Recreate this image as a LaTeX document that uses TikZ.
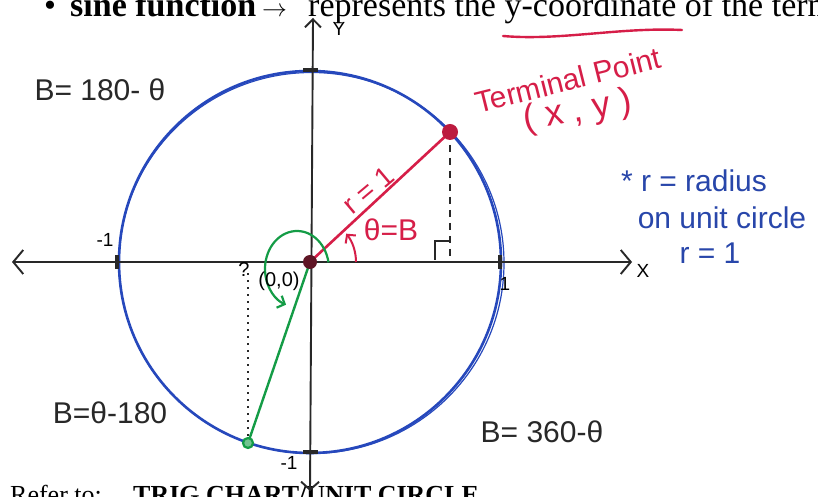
\documentclass[tikz,border=0pt]{standalone}
\usepackage{fontspec}
\setmainfont{Liberation Serif}
\newfontfamily\handfont{Liberation Sans}
\usetikzlibrary{arrows.meta}
\definecolor{penblue}{RGB}{38,72,188}
\definecolor{notesblue}{RGB}{40,70,170}
\definecolor{penred}{RGB}{214,30,72}
\definecolor{pengreen}{RGB}{20,156,70}
\definecolor{penblack}{RGB}{40,40,40}
\definecolor{dotdark}{RGB}{95,22,38}
\begin{document}
\begin{tikzpicture}[x=1pt,y=1pt,
  hand/.style={font=\handfont\fontsize{30}{32}\selectfont, inner sep=0pt},
  smallhand/.style={font=\handfont\fontsize{19}{21}\selectfont, inner sep=0pt},
  print/.style={font=\fontsize{34}{38}\selectfont, inner sep=0pt, anchor=base west},
  axisline/.style={penblack, line width=1.9pt},
  tickmark/.style={penblack, line width=4pt},
  circ/.style={penblue, line width=2.6pt}
]
\useasboundingbox (0,0) rectangle (818,497);
\fill[white] (0,0) rectangle (818,497);

% printed lines (cut by the page edge)
\node[print] (bul) at (44,480) {\textbullet};
\node[print] (sf) at (70,480) {\textbf{sine function}};
\node[print] (arr) at (262,480) {$\rightarrow$};
\node[print] (rep) at (308,480) {represents the y-coordinate of the term};
\draw[penred, line width=2.4pt, line cap=round] (503,461) .. controls (560,456) and (620,470) .. (682,467);
\node[print, font=\fontsize{26}{30}\selectfont] (ref) at (10,-7) {Refer to:};
\node[print, font=\fontsize{26}{30}\selectfont] (trig) at (133,-7) {\textbf{TRIG CHART/UNIT CIRCLE}};

% geometry
\coordinate (O) at (310,235);
\coordinate (XL) at (12,235);
\coordinate (XR) at (632,235);
\coordinate (YB) at (310,6);
\coordinate (YT) at (313,479);
\coordinate (P) at (450,365);
\coordinate (PF) at (450,237);
\coordinate (G) at (248,54);
\coordinate (GF) at (248,226);

% unit circle
\draw[circ] (O) circle[radius=191pt];
\draw[penblue, line width=1.2pt] (311.5,234) circle[x radius=192.5pt, y radius=190.5pt];

% axes
\draw[axisline, {Straight Barb[length=10pt,width=24pt]}-{Straight Barb[length=10pt,width=24pt]}] (XL) -- (XR);
\draw[axisline, {Straight Barb[length=8pt,width=18pt]}-{Straight Barb[length=8pt,width=16pt]}] (YB) -- (YT);

% ticks
\draw[tickmark] (117,228) -- (117,242);
\draw[tickmark] (500,228) -- (500,242);
\draw[tickmark] (303,427) -- (318,427);
\draw[tickmark] (303,45) -- (318,45);

% axis labels
\node[smallhand] (xlab) at (643,226) {X};
\node[smallhand] (ylab) at (339,468) {Y};
\node[smallhand] (m1l) at (105,257) {-1};
\node[smallhand] (p1r) at (505,213) {1};
\node[smallhand] (m1b) at (289,34) {-1};

% red terminal side
\draw[penblack, line width=1.5pt, dash pattern=on 7pt off 6pt] (P) -- (PF);
\draw[penblack, line width=2pt] (435,237) -- (435,256) -- (450,256);
\draw[penred, line width=2.6pt] (O) -- (P);
\draw[penred, line width=2pt, -{Straight Barb[length=6pt,width=13pt]}] (356,235) arc[start angle=0, end angle=38, radius=46pt];
\fill[penred!88!black] (P) circle[radius=8pt];

% green side
\draw[penblack, line width=1.3pt, dash pattern=on 2pt off 5pt] (G) -- (GF);
\draw[pengreen, line width=2.4pt] (O) -- (G);
\draw[pengreen, line width=2.2pt, fill=pengreen!60] (G) circle[radius=5pt];
\draw[pengreen, line width=2.2pt, -{Straight Barb[length=6pt,width=13pt]}] (328.5,234.6) arc[start angle=10, end angle=250, x radius=32pt, y radius=38pt];
\fill[dotdark] (O) circle[radius=7pt];
\node[smallhand, font=\handfont\fontsize{20}{22}\selectfont] (q) at (244,227) {?};
\node[smallhand, font=\handfont\fontsize{20}{22}\selectfont] (oo) at (279,216) {(0,0)};

% red labels
\node[hand, text=penred] (th) at (391,267) {θ=B};
\node[hand, text=penred, font=\handfont\fontsize{28}{30}\selectfont, rotate=40] (r1) at (368,307) {r = 1};
\node[hand, text=penred, rotate=14] (term) at (568,417) {Terminal Point};
\node[hand, text=penred, font=\handfont\fontsize{36}{38}\selectfont, rotate=10] (xy) at (578,385) {( x , y )};

% blue notes
\node[hand, text=notesblue] (n1) at (694,316) {* r = radius};
\node[hand, text=notesblue] (n2) at (722,279) {on unit circle};
\node[hand, text=notesblue] (n3) at (710,244) {r = 1};

% quadrant notes
\node[hand, text=penblack] (q2) at (100,407) {B= 180- θ};
\node[hand, text=penblack] (q3) at (110,84) {B=θ-180};
\node[hand, text=penblack] (q4) at (542,65) {B= 360-θ};
\end{tikzpicture}
\end{document}
